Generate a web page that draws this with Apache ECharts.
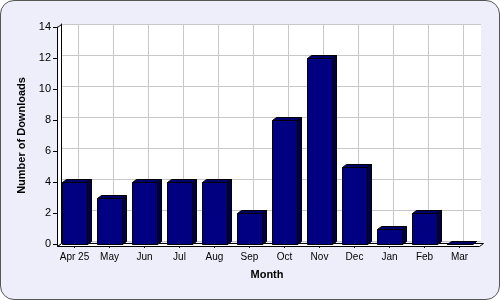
<!DOCTYPE html>
<html><head><meta charset="utf-8">
<script src="https://cdn.jsdelivr.net/npm/echarts@6/dist/echarts.min.js"></script>
<style>
html,body{margin:0;padding:0;background:#fff;}
#c{position:absolute;left:0;top:0;width:498px;height:298px;border:1px solid #555;border-radius:14px;background:#EEEEFB;overflow:hidden;}
</style></head><body>
<div id="c"></div>
<script>
const categories = ['Apr 25','May','Jun','Jul','Aug','Sep','Oct','Nov','Dec','Jan','Feb','Mar'];
const downloads = [4,3,4,4,4,2,8,12,5,1,2,0];
const yTicks = [0,2,4,6,8,10,12,14];

const DX = 4, DY = 3;
const chart = echarts.init(document.getElementById('c'), null, {renderer:'canvas'});
const font = 'Liberation Sans, Arial, sans-serif';
chart.setOption({
  animation:false,
  grid:[
    {left:56+DX, top:26-DY, right:22-DX, bottom:55+DY, show:true, backgroundColor:'#fff', borderWidth:0},
    {left:56, top:26, right:22, bottom:55}
  ],
  xAxis:[
    {gridIndex:0, type:'value', min:0, max:categories.length, interval:1,
     axisLine:{show:false}, axisTick:{show:false}, axisLabel:{show:false},
     splitLine:{show:false},
     minorTick:{show:false, splitNumber:2},
     minorSplitLine:{show:true, lineStyle:{color:'#c8c8c8', width:1}}},
    {gridIndex:1, type:'category', data:categories, boundaryGap:true,
     name:'Month', nameLocation:'middle', nameGap:25,
     nameTextStyle:{fontFamily:font, fontWeight:'bold', fontSize:11, color:'#000'},
     axisLine:{show:true, lineStyle:{color:'#000', width:1}},
     axisTick:{show:true, alignWithLabel:true, length:4, lineStyle:{color:'#000'}},
     axisLabel:{fontFamily:font, fontSize:10, color:'#000', margin:8, interval:0},
     splitLine:{show:false}}
  ],
  yAxis:[
    {gridIndex:0, type:'value', min:0, max:14, interval:2,
     axisLine:{show:true, lineStyle:{color:'#000'}}, axisTick:{show:false}, axisLabel:{show:false},
     splitLine:{show:true, lineStyle:{color:'#c8c8c8', width:1}}},
    {gridIndex:1, type:'value', min:0, max:14, interval:2,
     name:'Number of Downloads', nameLocation:'middle', nameGap:29, nameRotate:90,
     nameTextStyle:{fontFamily:font, fontWeight:'bold', fontSize:11, color:'#000'},
     axisLine:{show:true, lineStyle:{color:'#000'}},
     axisTick:{show:true, length:4, lineStyle:{color:'#000'}},
     axisLabel:{fontFamily:font, fontSize:11, color:'#000', margin:6,
       formatter:v=>yTicks.includes(v)?String(v):''},
     splitLine:{show:false}}
  ],
  series:[
    {type:'custom', xAxisIndex:1, yAxisIndex:1, data:downloads.map((v,i)=>[i,v]),
     renderItem:function(params, api){
       const i = api.value(0), v = api.value(1);
       const top = api.coord([i, v]);
       const base = api.coord([i, 0]);
       const w = api.size([1,0])[0]*0.71;
       const x0 = Math.round(top[0]-w/2)+0.5, x1 = Math.round(top[0]+w/2)+0.5;
       const y0 = Math.round(top[1])+0.5, y1 = Math.round(base[1])+0.5;
       const st = {stroke:'#000', lineWidth:1};
       return {type:'group', children:[
         {type:'polygon', shape:{points:[[x1,y0],[x1+DX,y0-DY],[x1+DX,y1-DY],[x1,y1]]},
          style:Object.assign({fill:'#000046'},st)},
         {type:'polygon', shape:{points:[[x0,y0],[x0+DX,y0-DY],[x1+DX,y0-DY],[x1,y0]]},
          style:Object.assign({fill:'#00006a'},st)},
         {type:'rect', shape:{x:x0, y:y0, width:x1-x0, height:y1-y0},
          style:Object.assign({fill:'#000080'},st)}
       ]};
     }}
  ]
});
// 3D floor and left wall edges
const p00 = chart.convertToPixel({gridIndex:1}, [0,0]);
const gw = 500-56-22, gh = 300-26-55;
const L = 56.5, B = 245.5, R = L+gw, T = 26.5;
chart.setOption({graphic:[
  {type:'polygon', z:1, shape:{points:[[L,B],[L+DX,B-DY],[R+DX,B-DY],[R,B]]}, style:{fill:'#fff', stroke:'#000', lineWidth:1}},
  {type:'polygon', z:1, shape:{points:[[L,T],[L+DX,T-DY],[L+DX,B-DY],[L,B]]}, style:{fill:'#fff', stroke:'#000', lineWidth:1}}
]});
</script></body></html>
